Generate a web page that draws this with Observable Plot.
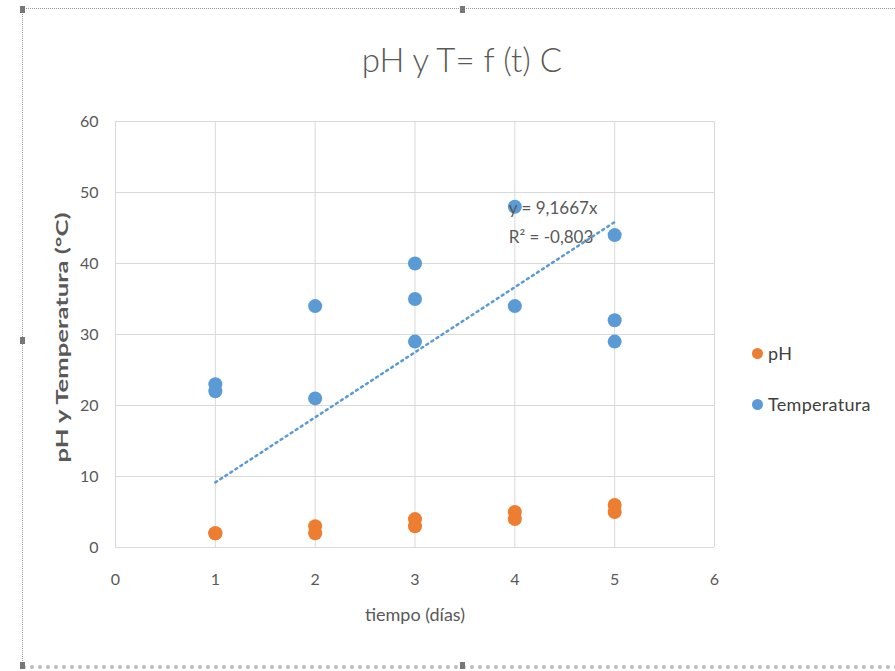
<!DOCTYPE html>
<html>
<head>
<meta charset="utf-8">
<script src="https://cdn.jsdelivr.net/npm/d3@7"></script>
<script src="https://cdn.jsdelivr.net/npm/@observablehq/plot@0.6"></script>
<style>
  html, body { margin: 0; padding: 0; background: #fff; }
  #wrap { position: relative; width: 895px; height: 671px; overflow: hidden; font-family: Lato, "Open Sans", sans-serif; }
  #chart { position: absolute; left: 0; top: 0; }
  #title { position: absolute; left: 262px; width: 400px; top: 39px; text-align: center; font-size: 33px; font-weight: 300; color: #595959; }
  .leg { position: absolute; left: 752px; font-size: 18px; color: #404040; display: flex; align-items: center; letter-spacing: 0.3px; }
  .leg span.m { width: 11px; height: 11px; border-radius: 50%; display: inline-block; margin-right: 5px; }
  #frame { position: absolute; left: 22px; top: 8px; width: 900px; height: 656px; border-top: 1px dotted #999; border-left: 1px dotted #999; border-bottom: 4px dotted #bbb; }
  .h { position: absolute; width: 5px; height: 7px; background: #777; }
</style>
</head>
<body>
<div id="wrap">
  <div id="chart"></div>
  <div id="frame"></div>
  <div class="h" style="left:20px;top:6px"></div>
  <div class="h" style="left:460px;top:6px"></div>
  <div class="h" style="left:20px;top:337px"></div>
  <div class="h" style="left:20px;top:662px"></div>
  <div class="h" style="left:460px;top:662px"></div>
  <div id="title">pH y T= f (t) C</div>
  <div class="leg" style="top:342px"><span class="m" style="background:#ED7D31"></span>pH</div>
  <div class="leg" style="top:393px"><span class="m" style="background:#5B9BD5"></span>Temperatura</div>
</div>
<script>
// Data
const phDays = [1, 1, 2, 2, 3, 3, 4, 4, 5, 5];
const phValues = [2, 2, 2, 3, 3, 4, 4, 5, 5, 6];
const tempDays = [1, 1, 2, 2, 3, 3, 3, 4, 4, 5, 5, 5];
const tempValues = [22, 23, 34, 21, 40, 35, 29, 48, 34, 44, 32, 29];
const trendSlope = 9.1667;
const trendX = [1, 5];
const trendLabel = ["y = 9,1667x", "R² = -0,803"];
const xTicks = [0, 1, 2, 3, 4, 5, 6];
const yTicks = [0, 10, 20, 30, 40, 50, 60];
const xLabel = "tiempo (días)";
const yLabel = "pH y Temperatura (°C)";

const ph = phDays.map((d, i) => ({x: d, y: phValues[i]}));
const temp = tempDays.map((d, i) => ({x: d, y: tempValues[i]}));
const trend = trendX.map(x => ({x, y: trendSlope * x}));

const chart = Plot.plot({
  width: 895,
  height: 671,
  marginLeft: 115,
  marginRight: 181,
  marginTop: 121,
  marginBottom: 124,
  style: {fontFamily: "Lato, 'Open Sans', sans-serif", fontSize: "15px", color: "#595959", background: "transparent"},
  x: {domain: [0, 6], ticks: xTicks},
  y: {domain: [0, 60], ticks: yTicks},
  marks: [
    Plot.gridX(xTicks, {stroke: "#d9d9d9", strokeOpacity: 1}),
    Plot.gridY(yTicks, {stroke: "#d9d9d9", strokeOpacity: 1}),
    Plot.axisX({ticks: xTicks, tickFormat: d3.format("d"), tickSize: 0, tickPadding: 26, fontSize: 16, fill: "#595959", label: null}),
    Plot.axisY({ticks: yTicks, tickFormat: d3.format("d"), tickSize: 0, tickPadding: 17, fontSize: 16, fill: "#595959", label: null}),
    Plot.text([xLabel], {frameAnchor: "bottom", dy: 73, text: d => d, fontSize: 18, fill: "#595959"}),
    Plot.text([yLabel], {frameAnchor: "left", dx: -53, rotate: -90, textAnchor: "start", text: d => d, fontSize: 17, fontWeight: "bold", fill: "#595959", className: "ylab"}),
    Plot.line(trend, {x: "x", y: "y", stroke: "#5B9BD5", strokeWidth: 2.5, strokeDasharray: "2,4"}),
    Plot.dot(temp, {x: "x", y: "y", r: 7, fill: "#5B9BD5"}),
    Plot.dot(ph, {x: "x", y: "y", r: 7, fill: "#ED7D31"}),
    Plot.text([trendLabel[0]], {x: 4, y: 47.8, text: d => d, textAnchor: "start", dx: -6, fontSize: 17, fill: "#595959"}),
    Plot.text([trendLabel[1]], {x: 4, y: 43.6, text: d => d, textAnchor: "start", dx: -6, fontSize: 17, fill: "#595959"})
  ]
});
// stretch the y label to the reference's length, centred on the plot's middle
chart.querySelectorAll(".ylab text").forEach(t => {
  t.setAttribute("x", -128);
  t.setAttribute("textLength", 250);
  t.setAttribute("lengthAdjust", "spacingAndGlyphs");
});
document.getElementById("chart").appendChild(chart);
</script>
</body>
</html>
